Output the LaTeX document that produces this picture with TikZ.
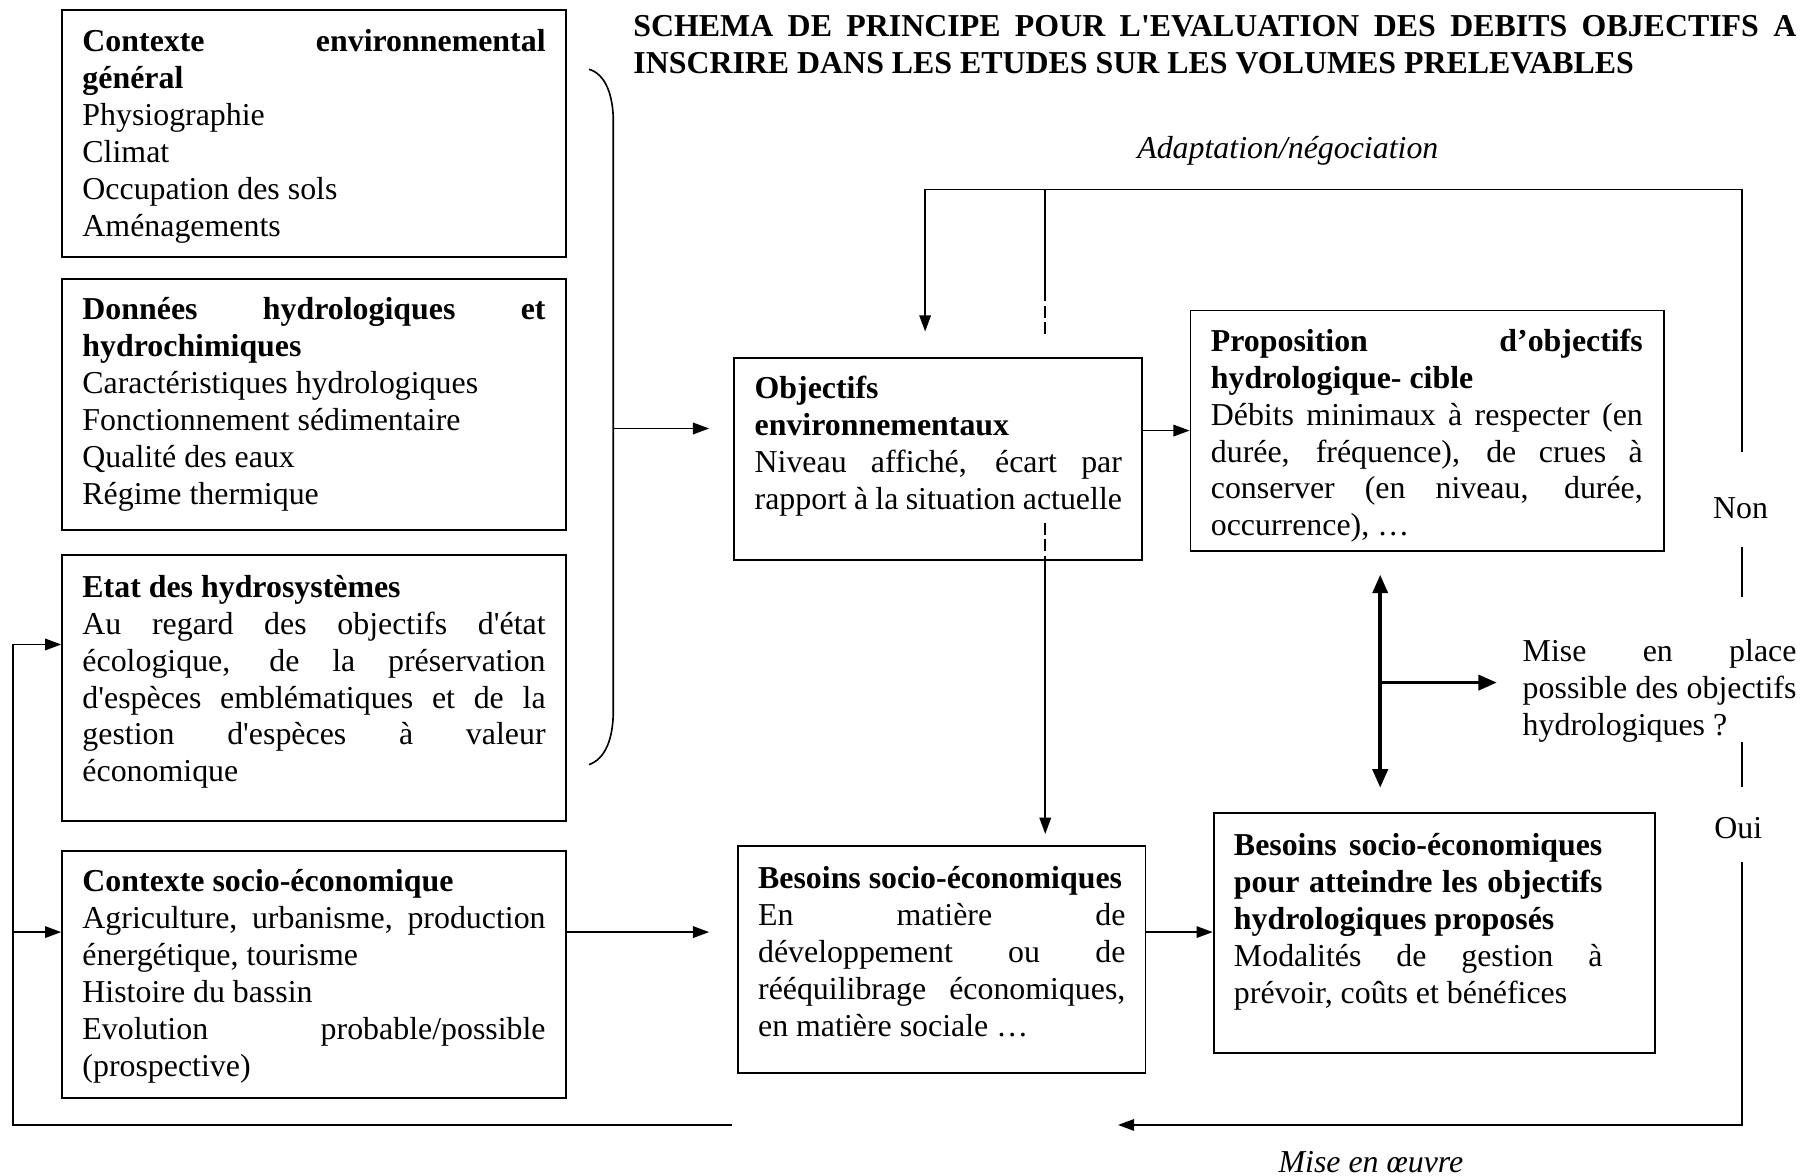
\documentclass[tikz,border=0pt]{standalone}
\usepackage{fontspec}
\setmainfont{Liberation Serif}
\usetikzlibrary{arrows.meta}
\newcommand\bodyfont{\fontsize{13.8pt}{16pt}\selectfont}
\newcommand\sq{\textquotesingle}
\newcommand\bxt[2]{\parbox[t]{#1}{\bodyfont\hyphenpenalty=10000 \exhyphenpenalty=10000 \tolerance=9999 #2}}
\tikzset{
  frame/.style={draw, line width=0.8pt, inner sep=0pt, anchor=north west},
  txt/.style={anchor=base west, inner sep=0pt},
  lbl/.style={inner sep=0pt, font=\bodyfont},
  conn/.style={line width=0.7pt},
  dashln/.style={conn, dash pattern=on 5pt off 2pt},
  arr/.style={conn, -{Triangle[length=7pt,width=5pt]}},
  thickarr/.style={line width=1.6pt, -{Triangle[length=8pt,width=6.5pt]}},
  dblarr/.style={line width=1.6pt, {Triangle[length=8pt,width=6.5pt]}-{Triangle[length=8pt,width=6.5pt]}}
}
\begin{document}
\begin{tikzpicture}[x=0.5pt,y=-0.5pt]
\useasboundingbox (0,0) rectangle (1568,1018);
\fill[white] (0,0) rectangle (1568,1018);

% title
\node[txt] (title) at (548,32) {\bxt{503.5pt}{\bfseries SCHEMA DE PRINCIPE POUR L\sq EVALUATION DES DEBITS OBJECTIFS A\linebreak INSCRIRE DANS LES ETUDES SUR LES VOLUMES PRELEVABLES}};

% left boxes
\node[frame, minimum width=218pt, minimum height=107pt] (A) at (53,8) {};
\node[txt] (At) at (71,45) {\bxt{200.5pt}{{\bfseries Contexte environnemental\linebreak général}\\ Physiographie\\ Climat\\ Occupation des sols\\ Aménagements}};

\node[frame, minimum width=218pt, minimum height=108.5pt] (B) at (53,241) {};
\node[txt] (Bt) at (71,277) {\bxt{200.5pt}{{\bfseries Données hydrologiques et\linebreak hydrochimiques}\\ Caractéristiques hydrologiques\\ Fonctionnement sédimentaire\\ Qualité des eaux\\ Régime thermique}};

\node[frame, minimum width=218pt, minimum height=115pt] (C) at (53,480) {};
\node[txt] (Ct) at (71,517) {\bxt{200.5pt}{{\bfseries Etat des hydrosystèmes}\\ Au regard des objectifs d\sq état\linebreak écologique, de la préservation\linebreak d\sq espèces emblématiques et de la\linebreak gestion d\sq espèces à valeur\linebreak économique}};

\node[frame, minimum width=218pt, minimum height=107pt] (D) at (53,736) {};
\node[txt] (Dt) at (71,772) {\bxt{200.5pt}{{\bfseries Contexte socio-économique}\\ Agriculture, urbanisme, production\linebreak énergétique, tourisme\\ Histoire du bassin\\ Evolution probable/possible\linebreak (prospective)}};

% middle / right boxes
\node[frame, minimum width=176.5pt, minimum height=87.5pt] (E) at (635,309) {};
\node[txt] (Et) at (653,345) {\bxt{159pt}{{\bfseries Objectifs\\ environnementaux}\\ Niveau affiché, écart par\linebreak rapport à la situation actuelle}};

\node[frame, minimum width=205pt, minimum height=104pt] (F) at (1030,268) {};
\node[txt] (Ft) at (1048,304) {\bxt{187pt}{{\bfseries Proposition d’objectifs\linebreak hydrologique- cible}\\ Débits minimaux à respecter (en\linebreak durée, fréquence), de crues à\linebreak conserver (en niveau, durée,\linebreak occurrence), …}};

\node[frame, minimum width=176.5pt, minimum height=98pt] (G) at (638,732) {};
\node[txt] (Gt) at (656,769) {\bxt{159pt}{{\bfseries Besoins socio-économiques}\\ En matière de\linebreak développement ou de\linebreak rééquilibrage économiques,\linebreak en matière sociale …}};

\node[frame, minimum width=191pt, minimum height=104pt] (H) at (1050,703) {};
\node[txt] (Ht) at (1068,741) {\bxt{159.5pt}{{\bfseries Besoins socio-économiques\linebreak pour atteindre les objectifs\linebreak hydrologiques proposés}\\ Modalités de gestion à\linebreak prévoir, coûts et bénéfices}};

% free texts
\node[txt] (mep) at (1318,573) {\bxt{118.5pt}{Mise en place\linebreak possible des objectifs\linebreak hydrologiques ?}};
\node[lbl, anchor=base] (adapt) at (1115,137) {\itshape Adaptation/négociation};
\node[lbl, anchor=base] (mise) at (1187,1015) {\itshape Mise en œuvre};
\node[lbl, anchor=base] (non) at (1507,449) {Non};
\node[lbl, anchor=base] (oui) at (1505,726) {Oui};

% coordinates
\coordinate (tl) at (801,164);
\coordinate (tm) at (905,164);
\coordinate (tr) at (1508,164);
\coordinate (row) at (0,807);
\coordinate (cy) at (0,558);
\coordinate (bl) at (11,974);
\coordinate (bgap) at (634,974);
\coordinate (br) at (1508,974);
\coordinate (mret) at (968,974);
\coordinate (brace) at (531,371);
\coordinate (dx) at (1195,0);
\coordinate (hs) at (1195,591);

% brace and arrow to objectives
\draw[conn] (510,60) .. controls (524,64) and (531,82) .. (531,105) -- (531,615) .. controls (531,640) and (524,657) .. (510,662);
\draw[arr, shorten >=10.5pt] (brace) -- (brace -| E.west);

% E -> F
\draw[arr] (E.east |- F.west) -- (F.west);

% top feedback loop
\draw[conn] (1508,391) -- (tr) -- (tl);
\draw[arr, shorten >=11pt] (tl) -- (tl |- E.north);
\draw[conn] (tm) -- (905,251);
\draw[dashln] (905,251) -- (905,289);
\draw[dashln] (905,453) -- (tm |- E.south);
\draw[arr, shorten >=5pt] (tm |- E.south) -- (tm |- G.north);

% right side segments
\draw[conn] (1508,474) -- (1508,517);
\draw[conn] (1508,642) -- (1508,681);
\draw[arr] (1508,746) -- (br) -- (mret);

% bottom return to the left boxes
\draw[arr] (bgap) -- (bl) -- (bl |- cy) -- (C.west |- cy);
\draw[arr] (bl |- row) -- (D.west |- row);

% socio-economic row
\draw[arr, shorten >=12pt] (D.east |- row) -- (G.west |- row);
\draw[arr] (G.east |- row) -- (H.west |- row);

% thick arrows
\draw[dblarr, shorten <=10pt, shorten >=10.5pt] (dx |- F.south) -- (dx |- H.north);
\draw[thickarr, shorten >=11pt] (hs) -- (hs -| mep.west);
\end{tikzpicture}
\end{document}
